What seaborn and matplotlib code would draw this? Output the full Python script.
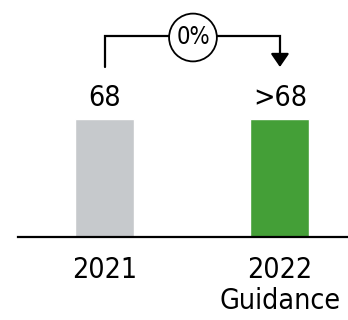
import matplotlib
matplotlib.use("Agg")
import matplotlib.pyplot as plt
import seaborn as sns
import pandas as pd

# data
years = ["2021", "2022\nGuidance"]
values = [68, 68]
value_labels = ["68", ">68"]
change_label = "0%"
bar_colors = ["#c6c9cc", "#449f37"]


def main():
    sns.set_style("white")
    plt.rcParams["font.family"] = ["DejaVu Sans"]
    plt.rcParams["font.stretch"] = "condensed"
    plt.rcParams["text.color"] = "black"
    plt.rcParams["xtick.color"] = "black"

    df = pd.DataFrame({"year": years, "value": values})

    fig = plt.figure(figsize=(3.48, 3.2), dpi=100)
    ax = fig.add_axes([18 / 348, 83 / 320, 330 / 348, 237 / 320])

    sns.barplot(data=df, x="year", y="value", hue="year", palette=bar_colors,
                width=0.337, legend=False, ax=ax, saturation=1)

    unit = 68 / 118  # data units per pixel
    ax.set_xlim(-0.497, 1.389)
    ax.set_ylim(0, 237 * unit)
    ax.set_xlabel("")
    ax.set_ylabel("")
    ax.set_yticks([])
    sns.despine(ax=ax, left=True, top=True, right=True)
    ax.spines["bottom"].set_linewidth(1.6)
    ax.spines["bottom"].set_color("black")
    ax.tick_params(axis="x", length=0, pad=14, labelsize=20.5, labelcolor="black")
    for lab in ax.get_xticklabels():
        lab.set_linespacing(1.12)
        lab.set_va("top")

    # value labels above the bars
    for i, (v, t) in enumerate(zip(values, value_labels)):
        ax.annotate(t, (i, v), xytext=(0, 9), textcoords="offset points",
                    ha="center", va="baseline", fontsize=20.5)

    # bracket with arrow from 2021 to 2022
    top = max(values) + 83 * unit
    y_start = values[0] + 52 * unit
    y_end = values[1] + 52 * unit
    ax.plot([0, 0, 1, 1], [y_start, top, top, y_end + 12 * unit],
            color="black", lw=1.6, solid_joinstyle="miter", clip_on=False)
    ax.annotate("", xy=(1, y_end), xytext=(1, y_end + 13 * unit),
                arrowprops=dict(arrowstyle="-|>,head_length=0.8,head_width=0.55",
                                color="black", lw=1.6, shrinkA=0, shrinkB=0),
                annotation_clip=False)
    ax.text(0.503, top - 1.5 * unit, change_label, ha="center", va="center", fontsize=17,
            bbox=dict(boxstyle="circle,pad=0.3", fc="white", ec="black", lw=1.3),
            clip_on=False)

    fig.savefig("out.png", dpi=100)


if __name__ == "__main__":
    main()
